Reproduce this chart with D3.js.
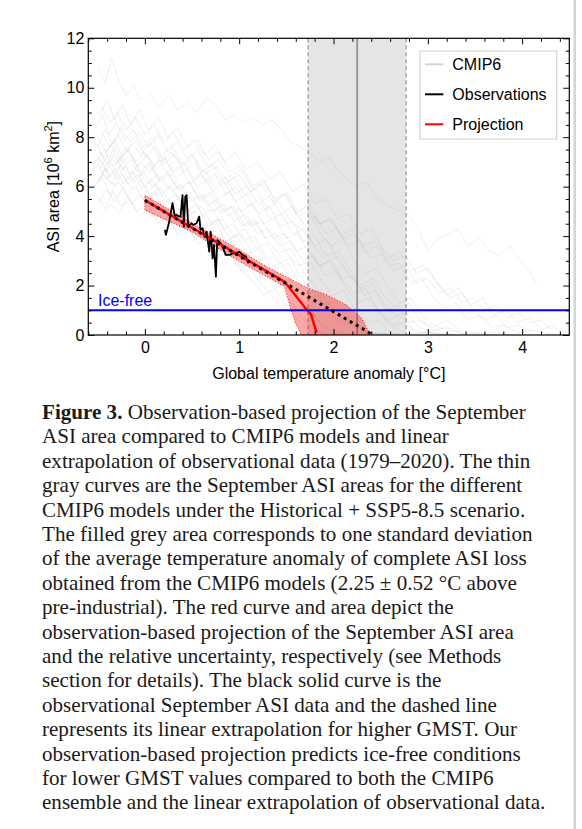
<!DOCTYPE html>
<html>
<head>
<meta charset="utf-8">
<script src="https://cdn.jsdelivr.net/npm/d3@7"></script>
<style>
  body { margin: 0; background: #fff; }
  svg { display: block; }
</style>
</head>
<body>
<svg id="chart" width="582" height="829"></svg>
<script>
// ---- data ----
const xTicks = [0, 1, 2, 3, 4];
const yTicks = [0, 2, 4, 6, 8, 10, 12];
const xDomain = [-0.6, 4.5];
const yDomain = [0, 12];

// CMIP6 model runs (x = GMST anomaly, y = ASI area)
const cmipCurves = [
  [[-0.50,10.8],[-0.42,10.2],[-0.35,11.2],[-0.28,10.3],[-0.20,9.7],[-0.12,10.1],[-0.05,9.5],[0.05,9.8],[0.15,9.2],[0.25,9.7],[0.35,9.1],[0.45,9.4],[0.55,9.0],[0.65,9.6],[0.75,9.3],[0.85,8.7],[0.95,8.9],[1.05,8.6],[1.15,8.8],[1.25,8.5],[1.35,8.7],[1.45,8.3],[1.55,7.8],[1.65,7.6],[1.75,7.4],[1.85,7.0],[1.95,7.2],[2.05,6.6],[2.15,6.3],[2.25,6.0],[2.35,6.2],[2.45,5.6],[2.55,5.3],[2.65,5.1],[2.78,4.9],[2.9,4.3],[3.0,3.4],[3.1,3.9],[3.22,4.1],[3.32,4.3],[3.42,3.6],[3.55,3.9],[3.65,3.4],[3.75,3.2],[3.87,3.6],[3.98,3.0],[4.07,2.6],[4.15,2.0]],
  [[-0.52,8.4],[-0.45,8.9],[-0.38,8.1],[-0.3,8.6],[-0.22,7.9],[-0.12,8.3],[-0.02,7.6],[0.08,8.0],[0.18,7.2],[0.28,7.7],[0.4,6.9],[0.5,7.3],[0.6,6.6],[0.72,6.9],[0.85,6.1],[0.95,6.4],[1.05,5.7],[1.18,5.9],[1.3,5.1],[1.42,5.4],[1.55,4.6],[1.68,4.2],[1.8,3.6],[1.92,3.9],[2.05,3.0],[2.18,2.4],[2.3,1.8],[2.42,1.2],[2.55,0.6],[2.68,0.2],[2.8,0.05],[3.0,0.1],[3.2,0.0]],
  [[-0.48,7.4],[-0.4,6.9],[-0.32,7.6],[-0.24,7.0],[-0.15,7.3],[-0.05,6.6],[0.05,7.0],[0.15,6.3],[0.25,6.6],[0.35,5.9],[0.47,6.2],[0.58,5.5],[0.7,5.8],[0.82,5.0],[0.94,5.2],[1.06,4.4],[1.18,4.6],[1.3,3.8],[1.42,3.3],[1.55,3.5],[1.68,2.6],[1.8,2.0],[1.92,1.4],[2.05,0.9],[2.18,0.4],[2.3,0.1],[2.5,0.05],[2.7,0.0]],
  [[-0.55,6.6],[-0.46,7.1],[-0.37,6.4],[-0.28,6.8],[-0.18,6.1],[-0.08,6.5],[0.02,5.8],[0.12,6.1],[0.22,5.4],[0.33,5.7],[0.44,5.0],[0.55,5.3],[0.66,4.5],[0.78,4.7],[0.9,3.9],[1.02,4.1],[1.14,3.3],[1.26,2.9],[1.38,2.2],[1.5,2.5],[1.62,1.6],[1.74,1.0],[1.86,0.5],[1.98,0.2],[2.1,0.05],[2.4,0.1],[2.6,0.0]],
  [[-0.5,5.6],[-0.42,5.1],[-0.34,5.8],[-0.25,5.2],[-0.16,5.5],[-0.06,4.8],[0.04,5.1],[0.14,4.5],[0.24,4.8],[0.34,4.1],[0.45,4.4],[0.56,3.7],[0.67,3.9],[0.78,3.2],[0.9,3.4],[1.02,2.6],[1.14,2.2],[1.26,1.6],[1.38,1.9],[1.5,1.1],[1.62,0.6],[1.74,0.2],[1.86,0.05],[2.1,0.0]],
  [[-0.45,4.8],[-0.36,5.3],[-0.27,4.9],[-0.18,5.6],[-0.08,5.0],[0.02,5.4],[0.12,4.7],[0.22,5.0],[0.32,4.3],[0.42,4.6],[0.53,3.9],[0.64,4.1],[0.75,3.4],[0.86,3.6],[0.97,2.8],[1.08,3.0],[1.2,2.2],[1.32,1.7],[1.44,1.1],[1.56,1.3],[1.68,0.6],[1.8,0.2],[1.95,0.0]],
  [[-0.52,7.0],[-0.43,7.5],[-0.34,6.8],[-0.25,7.2],[-0.15,6.5],[-0.05,7.0],[0.05,6.6],[0.15,7.1],[0.26,6.4],[0.37,6.8],[0.48,6.1],[0.6,6.5],[0.72,5.8],[0.84,6.2],[0.96,5.4],[1.08,5.7],[1.2,4.9],[1.32,5.2],[1.44,4.4],[1.56,4.6],[1.68,3.8],[1.8,4.0],[1.92,3.2],[2.05,3.4],[2.18,2.6],[2.3,2.0],[2.42,2.3],[2.55,1.5],[2.68,1.0],[2.8,1.3],[2.92,0.6],[3.05,0.3],[3.2,0.6],[3.35,0.2],[3.5,0.1],[3.7,0.0]],
  [[-0.5,8.0],[-0.41,7.4],[-0.33,7.9],[-0.24,7.2],[-0.14,7.7],[-0.04,7.3],[0.06,7.8],[0.17,7.0],[0.28,7.4],[0.4,6.8],[0.52,7.2],[0.64,6.5],[0.76,6.8],[0.88,6.2],[1.0,6.5],[1.12,5.8],[1.24,6.1],[1.36,5.4],[1.48,5.7],[1.6,4.9],[1.72,5.2],[1.84,4.5],[1.96,4.7],[2.08,4.0],[2.2,4.3],[2.32,3.6],[2.45,3.8],[2.58,3.1],[2.7,3.4],[2.82,2.6],[2.95,2.8],[3.08,2.2],[3.2,1.6],[3.32,1.9],[3.45,1.2],[3.58,1.5],[3.7,0.8],[3.82,1.0],[3.95,0.5],[4.08,0.7],[4.2,0.2],[4.32,0.4],[4.42,0.1]],
  [[-0.48,8.9],[-0.4,9.5],[-0.32,8.7],[-0.24,9.3],[-0.15,8.5],[-0.06,9.1],[0.04,8.3],[0.14,8.8],[0.24,8.0],[0.34,8.4],[0.45,7.6],[0.56,7.9],[0.67,7.1],[0.78,7.4],[0.9,6.6],[1.02,6.9],[1.14,6.0],[1.26,6.3],[1.38,5.4],[1.5,5.7],[1.62,4.8],[1.74,5.0],[1.86,4.1],[1.98,3.6],[2.1,3.9],[2.22,3.0],[2.34,2.5],[2.46,2.7],[2.58,1.9],[2.7,1.3],[2.82,1.5],[2.94,0.8],[3.06,0.4],[3.2,0.2],[3.4,0.05]],
  [[-0.5,6.2],[-0.42,6.7],[-0.33,6.0],[-0.24,6.5],[-0.14,5.9],[-0.04,6.3],[0.06,5.6],[0.16,6.0],[0.27,5.3],[0.38,5.6],[0.49,4.9],[0.6,5.2],[0.71,4.5],[0.82,4.7],[0.94,4.0],[1.06,4.3],[1.18,3.5],[1.3,3.7],[1.42,2.9],[1.54,3.1],[1.66,2.3],[1.78,1.8],[1.9,1.2],[2.02,1.4],[2.14,0.7],[2.26,0.3],[2.38,0.1],[2.6,0.05],[2.9,0.0]],
  [[-0.53,7.8],[-0.44,7.2],[-0.36,7.7],[-0.27,7.0],[-0.18,7.5],[-0.08,6.8],[0.02,7.3],[0.12,6.7],[0.22,7.1],[0.33,6.3],[0.44,6.7],[0.55,6.0],[0.66,6.3],[0.78,5.5],[0.9,5.8],[1.02,5.0],[1.14,5.3],[1.26,4.5],[1.38,4.7],[1.5,3.9],[1.62,4.1],[1.74,3.3],[1.86,2.8],[1.98,3.0],[2.1,2.2],[2.22,1.7],[2.34,1.9],[2.46,1.1],[2.58,0.6],[2.7,0.8],[2.82,0.3],[2.95,0.1],[3.1,0.2],[3.3,0.0]],
  [[-0.45,9.2],[-0.37,8.6],[-0.29,9.0],[-0.2,8.3],[-0.1,8.8],[0.0,8.1],[0.1,8.5],[0.2,7.8],[0.3,8.2],[0.41,7.5],[0.52,7.9],[0.63,7.3],[0.74,7.7],[0.85,7.0],[0.96,7.4],[1.08,6.7],[1.2,7.0],[1.32,6.3],[1.44,6.6],[1.56,5.8],[1.68,6.1],[1.8,5.3],[1.92,5.5],[2.04,4.7],[2.16,4.9],[2.28,4.1],[2.4,4.3],[2.52,3.5],[2.64,3.0],[2.76,3.2],[2.88,2.5],[3.0,2.7],[3.12,2.0],[3.24,1.5],[3.36,1.7],[3.48,1.0],[3.6,0.6],[3.72,0.8],[3.84,0.3],[3.96,0.4],[4.1,0.1]],
  [[-0.5,6.9],[-0.41,6.3],[-0.32,6.7],[-0.23,6.1],[-0.13,6.6],[-0.03,5.9],[0.07,6.3],[0.17,5.7],[0.28,6.0],[0.39,5.3],[0.5,5.6],[0.61,4.8],[0.72,5.1],[0.83,4.3],[0.94,4.5],[1.05,3.8],[1.16,4.0],[1.28,3.2],[1.4,2.7],[1.52,2.9],[1.64,2.1],[1.76,1.5],[1.88,1.7],[2.0,0.9],[2.12,0.4],[2.24,0.5],[2.36,0.1],[2.6,0.0]],
  [[-0.55,5.9],[-0.46,6.4],[-0.37,5.7],[-0.28,6.2],[-0.19,5.6],[-0.09,6.0],[0.01,5.3],[0.11,5.7],[0.21,5.0],[0.31,5.4],[0.42,4.7],[0.53,5.0],[0.64,4.3],[0.75,4.6],[0.86,3.8],[0.97,4.0],[1.09,3.3],[1.21,3.5],[1.33,2.7],[1.45,2.9],[1.57,2.1],[1.69,1.6],[1.81,1.8],[1.93,1.0],[2.05,0.5],[2.17,0.6],[2.29,0.1],[2.5,0.0]],
  [[-0.5,7.6],[-0.42,8.3],[-0.34,7.7],[-0.25,8.4],[-0.16,7.8],[-0.06,8.2],[0.04,7.6],[0.14,8.1],[0.24,7.4],[0.34,7.8],[0.45,7.1],[0.56,7.5],[0.67,6.8],[0.78,7.1],[0.9,6.4],[1.02,6.7],[1.14,5.9],[1.26,6.2],[1.38,5.5],[1.5,5.8],[1.62,5.0],[1.74,5.3],[1.86,4.5],[1.98,4.7],[2.1,3.9],[2.22,4.1],[2.34,3.3],[2.46,3.6],[2.58,2.8],[2.7,2.9],[2.82,2.1],[2.94,2.3],[3.06,1.5],[3.18,1.1],[3.3,1.3],[3.42,0.6],[3.55,0.8],[3.68,0.3],[3.8,0.4],[3.95,0.1],[4.1,0.2],[4.3,0.05]],
  [[-0.47,6.4],[-0.39,7.0],[-0.3,6.3],[-0.21,6.8],[-0.12,6.2],[-0.02,6.6],[0.08,6.0],[0.18,6.4],[0.28,5.8],[0.39,6.1],[0.5,5.4],[0.61,5.7],[0.72,5.0],[0.83,5.3],[0.95,4.6],[1.07,4.9],[1.19,4.1],[1.31,4.3],[1.43,3.6],[1.55,3.8],[1.67,3.0],[1.79,3.2],[1.91,2.4],[2.03,2.6],[2.15,1.8],[2.27,1.3],[2.39,1.5],[2.51,0.8],[2.63,0.4],[2.75,0.5],[2.87,0.1],[3.1,0.05],[3.4,0.0]],
  [[-0.5,7.2],[-0.41,6.6],[-0.33,7.3],[-0.24,6.7],[-0.15,7.1],[-0.05,6.4],[0.05,6.9],[0.15,6.2],[0.25,6.5],[0.36,5.8],[0.47,6.2],[0.58,5.4],[0.69,5.7],[0.8,4.9],[0.91,5.2],[1.03,4.4],[1.15,4.7],[1.27,3.9],[1.39,4.1],[1.51,3.3],[1.63,2.8],[1.75,3.0],[1.87,2.2],[1.99,1.6],[2.11,1.8],[2.23,1.0],[2.35,0.5],[2.47,0.6],[2.6,0.1],[2.8,0.0]],
  [[-0.53,6.0],[-0.44,6.5],[-0.35,6.1],[-0.26,6.9],[-0.17,6.3],[-0.07,6.7],[0.03,6.1],[0.13,6.5],[0.23,5.9],[0.33,6.2],[0.44,5.6],[0.55,5.9],[0.66,5.2],[0.77,5.5],[0.88,4.8],[1.0,5.1],[1.12,4.4],[1.24,4.6],[1.36,3.9],[1.48,4.1],[1.6,3.4],[1.72,3.6],[1.84,2.8],[1.96,3.0],[2.08,2.2],[2.2,2.4],[2.32,1.6],[2.44,1.8],[2.56,1.0],[2.68,1.2],[2.8,0.5],[2.92,0.6],[3.05,0.2],[3.2,0.3],[3.4,0.05],[3.7,0.1],[3.9,0.0]],
  [[-0.46,8.2],[-0.37,7.6],[-0.28,8.1],[-0.19,7.4],[-0.09,7.9],[0.01,7.2],[0.11,7.6],[0.21,6.9],[0.31,7.3],[0.42,6.6],[0.53,7.0],[0.64,6.2],[0.75,6.5],[0.86,5.7],[0.97,6.0],[1.09,5.2],[1.21,5.5],[1.33,4.7],[1.45,4.9],[1.57,4.1],[1.69,4.3],[1.81,3.5],[1.93,3.0],[2.05,3.2],[2.17,2.4],[2.29,1.9],[2.41,2.1],[2.53,1.3],[2.65,0.8],[2.77,0.9],[2.9,0.3],[3.05,0.1],[3.3,0.0]],
  [[-0.5,5.3],[-0.41,5.9],[-0.32,5.4],[-0.23,6.0],[-0.14,5.3],[-0.04,5.7],[0.06,5.0],[0.16,5.4],[0.26,4.7],[0.36,5.0],[0.47,4.3],[0.58,4.6],[0.69,3.8],[0.8,4.1],[0.91,3.3],[1.03,3.5],[1.15,2.7],[1.27,2.2],[1.39,2.4],[1.51,1.5],[1.63,1.0],[1.75,1.1],[1.87,0.4],[2.0,0.1],[2.2,0.0]],
  [[-0.48,6.7],[-0.39,7.3],[-0.3,6.9],[-0.2,7.6],[-0.1,7.0],[0.0,7.4],[0.1,6.8],[0.2,7.2],[0.3,6.6],[0.41,7.0],[0.52,6.3],[0.63,6.7],[0.74,6.0],[0.85,6.4],[0.96,5.7],[1.08,6.0],[1.2,5.3],[1.32,5.6],[1.44,4.9],[1.56,5.2],[1.68,4.5],[1.8,4.8],[1.92,4.1],[2.04,4.3],[2.16,3.6],[2.28,3.8],[2.4,3.1],[2.52,3.3],[2.64,2.6],[2.76,2.8],[2.88,2.1],[3.0,2.3],[3.12,1.7],[3.24,1.9],[3.36,1.3],[3.48,1.5],[3.6,1.0],[3.72,1.2],[3.84,0.7],[3.96,0.9],[4.08,0.5],[4.2,0.6],[4.32,0.2]]
];

// observations 1979-2020
const obsX = [0.212,0.223,0.258,0.293,0.318,0.336,0.353,0.378,0.399,0.414,0.428,0.442,0.46,0.495,0.512,0.548,0.576,0.59,0.612,0.63,0.654,0.682,0.697,0.718,0.732,0.753,0.767,0.788,0.803,0.831,0.856,0.901,0.93,0.965,1.0,1.036,1.071,1.096];
const obsY = [4.25,4.05,4.58,5.33,4.79,4.85,4.81,4.79,5.66,4.38,5.6,5.66,4.38,4.52,4.45,4.52,4.79,4.25,4.32,3.98,4.18,3.37,4.18,3.1,3.64,2.36,3.84,3.78,3.71,3.51,3.24,3.24,3.3,3.3,3.37,3.24,3.17,2.9];

// observation-based projection and its uncertainty
const projX = [0, 1.48, 1.72, 1.76, 1.82];
const projY = [5.45, 2.16, 1.0, 0.85, 0.1];
const bandUpper = [[0,5.65],[0.5,4.52],[1.0,3.45],[1.25,2.85],[1.5,2.35],[1.73,1.89],[1.93,1.62],[2.14,1.21],[2.3,0.67],[2.39,0.0]];
const bandLower = [[0,5.05],[0.5,4.17],[1.0,2.98],[1.25,2.45],[1.48,1.96],[1.54,1.15],[1.59,0.54],[1.66,0.0]];

// linear extrapolation of observations
const extrapX = [0, 2.42];
const extrapY = [5.45, 0];

// CMIP6 complete ice loss temperature: mean ± sd
const lossMean = 2.25;
const lossSd = 0.52;
const iceFreeLevel = 1;

const legendItems = [
  { name: "CMIP6", color: "#d4d4d4" },
  { name: "Observations", color: "#000" },
  { name: "Projection", color: "#ff0000" }
];

const captionLines = [
  "Observation-based projection of the September",
  "ASI area compared to CMIP6 models and linear",
  "extrapolation of observational data (1979\u20132020). The thin",
  "gray curves are the September ASI areas for the different",
  "CMIP6 models under the Historical + SSP5-8.5 scenario.",
  "The filled grey area corresponds to one standard deviation",
  "of the average temperature anomaly of complete ASI loss",
  "obtained from the CMIP6 models (2.25 \u00b1 0.52 \u00b0C above",
  "pre-industrial). The red curve and area depict the",
  "observation-based projection of the September ASI area",
  "and the relative uncertainty, respectively (see Methods",
  "section for details). The black solid curve is the",
  "observational September ASI data and the dashed line",
  "represents its linear extrapolation for higher GMST. Our",
  "observation-based projection predicts ice-free conditions",
  "for lower GMST values compared to both the CMIP6",
  "ensemble and the linear extrapolation of observational data."
];

// ---- drawing ----
let svg = d3.select("#chart");
let sans = "'Liberation Sans', Arial, sans-serif";

let pLeft = 88.3, pRight = 569.3, pTop = 38.3, pBottom = 335;

let x = d3.scaleLinear().domain(xDomain).range([pLeft, pRight]);
let y = d3.scaleLinear().domain(yDomain).range([pBottom, pTop]);

// page edge line on the right
svg.append("rect").attr("x", 573.5).attr("y", 0).attr("width", 2.5).attr("height", 829).style("fill", "#d4d4d4");

svg.append("clipPath").attr("id", "plotclip")
  .append("rect").attr("x", pLeft).attr("y", pTop).attr("width", pRight - pLeft).attr("height", pBottom - pTop);

let plot = svg.append("g").attr("clip-path", "url(#plotclip)");

// grey band: mean ± sd of complete ice-loss temperature
plot.append("rect")
  .attr("x", x(lossMean - lossSd))
  .attr("y", pTop)
  .attr("width", x(lossMean + lossSd) - x(lossMean - lossSd))
  .attr("height", pBottom - pTop)
  .style("fill", "#e5e5e5");

// CMIP6 curves
let line = d3.line().x(d => x(d[0])).y(d => y(d[1]));
plot.selectAll(".cmip")
  .data(cmipCurves)
  .enter()
  .append("path")
    .attr("class", "cmip")
    .attr("d", line)
    .style("fill", "none")
    .style("stroke", "#9a9a9a")
    .style("stroke-opacity", 0.18)
    .style("stroke-width", 0.9);

// band edges and center
[lossMean - lossSd, lossMean + lossSd].forEach(v => {
  plot.append("line")
    .attr("x1", x(v)).attr("x2", x(v)).attr("y1", pTop).attr("y2", pBottom)
    .style("stroke", "#808080").style("stroke-width", 1).style("stroke-dasharray", "4,3");
});
plot.append("line")
  .attr("x1", x(lossMean)).attr("x2", x(lossMean)).attr("y1", pTop).attr("y2", pBottom)
  .style("stroke", "#555").style("stroke-width", 1);

// projection uncertainty area
let bandPoly = bandUpper.concat(bandLower.slice().reverse());
plot.append("path")
  .attr("d", line(bandPoly) + "Z")
  .style("fill", "#ff0000")
  .style("fill-opacity", 0.35)
  .style("stroke", "#ff0000")
  .style("stroke-width", 1)
  .style("stroke-dasharray", "1,2");

// observations
let obs = obsX.map((v, i) => [v, obsY[i]]);
plot.append("path")
  .attr("d", line(obs))
  .style("fill", "none")
  .style("stroke", "#000")
  .style("stroke-width", 1.8)
  .style("stroke-linejoin", "round");

// projection line
let proj = projX.map((v, i) => [v, projY[i]]);
plot.append("path")
  .attr("d", line(proj))
  .style("fill", "none")
  .style("stroke", "#ff0000")
  .style("stroke-width", 2.5);

// ice-free level
plot.append("line")
  .attr("x1", pLeft).attr("x2", pRight)
  .attr("y1", y(iceFreeLevel)).attr("y2", y(iceFreeLevel))
  .style("stroke", "#0000ff").style("stroke-width", 2);

// linear extrapolation (dashed)
let extrap = extrapX.map((v, i) => [v, extrapY[i]]);
plot.append("path")
  .attr("d", line(extrap))
  .style("fill", "none")
  .style("stroke", "#000")
  .style("stroke-width", 3)
  .style("stroke-dasharray", "3,4");

svg.append("text")
  .attr("x", 98).attr("y", 305.5)
  .attr("font-family", sans).attr("font-size", "16px")
  .style("fill", "#0000ff")
  .text("Ice-free");

// axes, ticks inside on all four sides
let xMinor = d3.range(-0.6, 4.51, 0.2).map(v => +v.toFixed(1)).filter(v => xTicks.indexOf(v) < 0);
let yMinor = d3.range(0, 12.01, 0.5).filter(v => yTicks.indexOf(v) < 0);

function styleAxis(sel) {
  sel.selectAll(".domain").remove();
  sel.selectAll("line").style("stroke", "#000").style("stroke-width", 1);
  sel.selectAll("text").attr("font-family", sans).attr("font-size", "16px").style("fill", "#000");
}

svg.append("g").attr("transform", "translate(0," + pBottom + ")")
  .call(d3.axisBottom(x).tickValues(xTicks).tickSize(-6).tickPadding(7).tickFormat(d3.format("d")))
  .call(styleAxis);
svg.append("g").attr("transform", "translate(0," + pBottom + ")")
  .call(d3.axisBottom(x).tickValues(xMinor).tickSize(-3.5).tickFormat(""))
  .call(styleAxis);
svg.append("g").attr("transform", "translate(0," + pTop + ")")
  .call(d3.axisTop(x).tickValues(xTicks).tickSize(-6).tickFormat(""))
  .call(styleAxis);
svg.append("g").attr("transform", "translate(0," + pTop + ")")
  .call(d3.axisTop(x).tickValues(xMinor).tickSize(-3.5).tickFormat(""))
  .call(styleAxis);

svg.append("g").attr("transform", "translate(" + pLeft + ",0)")
  .call(d3.axisLeft(y).tickValues(yTicks).tickSize(-6).tickPadding(4).tickFormat(d3.format("d")))
  .call(styleAxis);
svg.append("g").attr("transform", "translate(" + pLeft + ",0)")
  .call(d3.axisLeft(y).tickValues(yMinor).tickSize(-3.5).tickFormat(""))
  .call(styleAxis);
svg.append("g").attr("transform", "translate(" + pRight + ",0)")
  .call(d3.axisRight(y).tickValues(yTicks).tickSize(-6).tickFormat(""))
  .call(styleAxis);
svg.append("g").attr("transform", "translate(" + pRight + ",0)")
  .call(d3.axisRight(y).tickValues(yMinor).tickSize(-3.5).tickFormat(""))
  .call(styleAxis);

// frame
svg.append("rect")
  .attr("x", pLeft).attr("y", pTop)
  .attr("width", pRight - pLeft).attr("height", pBottom - pTop)
  .style("fill", "none").style("stroke", "#000").style("stroke-width", 1.2);

// axis labels
svg.append("text")
  .attr("x", (pLeft + pRight) / 2).attr("y", 379)
  .attr("text-anchor", "middle")
  .attr("font-family", sans).attr("font-size", "16px")
  .text("Global temperature anomaly [\u00b0C]");

let yl = svg.append("text")
  .attr("transform", "translate(58.5," + ((pTop + pBottom) / 2) + ") rotate(-90)")
  .attr("text-anchor", "middle")
  .attr("font-family", sans).attr("font-size", "16px");
yl.append("tspan").text("ASI area [10");
yl.append("tspan").attr("dy", -7).attr("font-size", "11px").text("6");
yl.append("tspan").attr("dy", 7).text(" km");
yl.append("tspan").attr("dy", -7).attr("font-size", "11px").text("2");
yl.append("tspan").attr("dy", 7).text("]");

// legend
let lg = svg.append("g");
lg.append("rect")
  .attr("x", 420).attr("y", 51).attr("width", 136.7).attr("height", 88)
  .style("fill", "#fff").style("stroke", "#cccccc").style("stroke-width", 1);
legendItems.forEach((d, i) => {
  let cy = 64.3 + i * 30;
  lg.append("line")
    .attr("x1", 425).attr("x2", 443.3).attr("y1", cy).attr("y2", cy)
    .style("stroke", d.color).style("stroke-width", 2);
  lg.append("text")
    .attr("x", 452.3).attr("y", cy + 5.8)
    .attr("font-family", sans).attr("font-size", "16px")
    .text(d.name);
});

// caption
let serif = "'Liberation Serif', 'Times New Roman', serif";
let cap = svg.append("g").attr("font-family", serif).style("fill", "#1a1a1a");
let lineH = 24.4, firstBase = 419, capX = 42;
let fs = 20;
let rows = cap.selectAll("text")
  .data(captionLines)
  .enter()
  .append("text")
    .attr("x", capX)
    .attr("y", (d, i) => firstBase + i * lineH)
    .attr("font-size", fs + "px");
rows.each(function(d, i) {
  let t = d3.select(this);
  if (i === 0) {
    t.append("tspan").attr("font-weight", "bold").text("Figure 3.");
    t.append("tspan").text(" " + d);
  } else {
    t.text(d);
  }
});
// scale font so the first line spans the width seen in the figure
let w0 = rows.node().getComputedTextLength();
let fs2 = fs * 484 / w0;
rows.attr("font-size", fs2 + "px");
</script>
</body>
</html>
